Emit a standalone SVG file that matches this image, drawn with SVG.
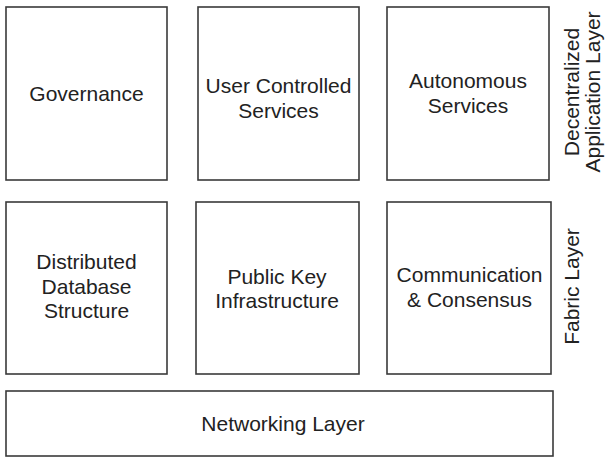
<svg xmlns="http://www.w3.org/2000/svg" width="607" height="457" viewBox="0 0 607 457">
  <style>
    .box { fill: #ffffff; stroke: #3a3a3a; stroke-width: 1.6; }
    .lbl { font-family: "Liberation Sans", Arial, sans-serif; font-size: 21px; fill: #222222; text-anchor: middle; }
  </style>
  <rect width="607" height="457" fill="#ffffff"/>

  <!-- Decentralized application layer -->
  <g id="governance">
    <rect class="box" x="6" y="7" width="161" height="173"/>
    <text class="lbl" x="86.5" y="101">Governance</text>
  </g>
  <g id="user-controlled-services">
    <rect class="box" x="198" y="7" width="161" height="173"/>
    <text class="lbl" x="278.5" y="93">User Controlled</text>
    <text class="lbl" x="278.5" y="118">Services</text>
  </g>
  <g id="autonomous-services">
    <rect class="box" x="387" y="7" width="162" height="173"/>
    <text class="lbl" x="468" y="87.5">Autonomous</text>
    <text class="lbl" x="468" y="113">Services</text>
  </g>

  <!-- Fabric layer -->
  <g id="distributed-database">
    <rect class="box" x="6" y="202" width="161" height="172"/>
    <text class="lbl" x="86.5" y="269">Distributed</text>
    <text class="lbl" x="86.5" y="293.5">Database</text>
    <text class="lbl" x="86.5" y="318">Structure</text>
  </g>
  <g id="public-key-infrastructure">
    <rect class="box" x="196" y="202" width="163" height="172"/>
    <text class="lbl" x="277" y="284">Public Key</text>
    <text class="lbl" x="277" y="307.5">Infrastructure</text>
  </g>
  <g id="communication-consensus">
    <rect class="box" x="387" y="202" width="164" height="172"/>
    <text class="lbl" x="469.5" y="282">Communication</text>
    <text class="lbl" x="469.5" y="306.5">&amp; Consensus</text>
  </g>

  <!-- Networking layer -->
  <g id="networking-layer">
    <rect class="box" x="6" y="391" width="547" height="65"/>
    <text class="lbl" x="283" y="431">Networking Layer</text>
  </g>

  <!-- Layer captions -->
  <g id="caption-application">
    <text class="lbl" transform="translate(579,92) rotate(-90)">Decentralized</text>
    <text class="lbl" transform="translate(600,92) rotate(-90)">Application Layer</text>
  </g>
  <g id="caption-fabric">
    <text class="lbl" transform="translate(578.5,286.5) rotate(-90)">Fabric Layer</text>
  </g>

  <g id="connectors"></g>
</svg>
